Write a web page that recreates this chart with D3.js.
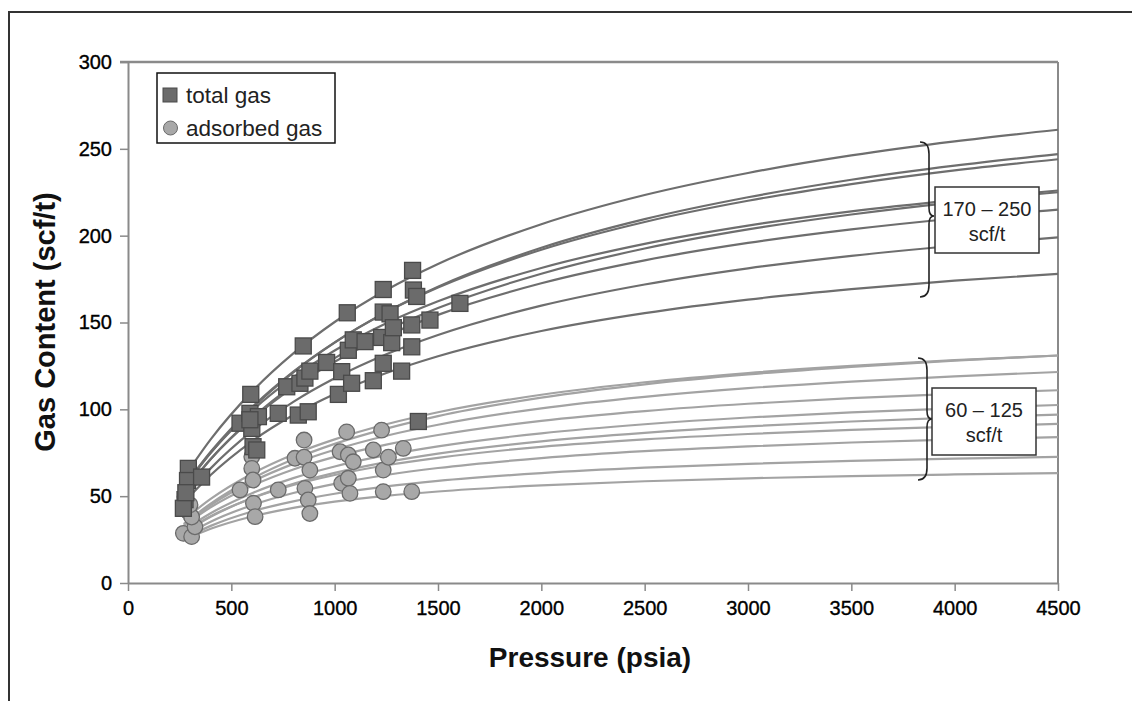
<!DOCTYPE html>
<html><head><meta charset="utf-8">
<script src="https://cdn.jsdelivr.net/npm/d3@7"></script>
<style>body{margin:0;background:#fff}svg{display:block;font-family:"Liberation Sans",Arial,sans-serif}</style>
</head><body><svg id="c" width="1132" height="701"></svg>
<script>
// ---- data ----
const xTicks = [0,500,1000,1500,2000,2500,3000,3500,4000,4500];
const yTicks = [0,50,100,150,200,250,300];
const curvePressures = [270,400,600,800,1000,1250,1500,2000,2500,3000,3500,4000,4500];
const totalCurves = [
  [60.7,82.7,110.2,132.2,150.3,168.7,183.7,206.6,223.4,236.1,246.2,254.3,261.0],
  [54.8,74.9,100.5,121.3,138.4,156.1,170.6,193.0,209.5,222.1,232.2,240.3,247.0],
  [55.4,75.6,101.1,121.7,138.6,155.9,170.1,191.9,207.9,220.1,229.7,237.6,244.0],
  [55.4,75.0,99.2,118.4,133.9,149.6,162.2,181.4,195.3,205.8,214.0,220.5,226.0],
  [52.3,71.3,95.0,114.0,129.5,145.4,158.3,178.1,192.6,203.6,212.2,219.2,225.0],
  [52.7,71.4,94.4,112.7,127.4,142.3,154.4,172.6,185.8,195.8,203.6,209.9,215.0],
  [48.8,66.0,87.4,104.3,117.9,131.7,142.8,159.7,171.9,181.2,188.4,194.2,199.0],
  [46.3,62.2,81.6,96.7,108.8,120.9,130.6,145.1,155.4,163.2,169.2,174.1,178.0]
];
const adsorbedCurves = [
  [36.3,48.4,62.9,74.0,82.7,91.4,98.3,108.4,115.6,120.9,125.0,128.3,131.0],
  [34.0,45.7,60.0,71.2,80.1,88.9,96.1,106.7,114.4,120.1,124.5,128.1,131.0],
  [33.6,44.9,58.3,68.6,76.7,84.8,91.1,100.6,107.2,112.2,116.0,119.0,121.5],
  [33.0,43.6,56.0,65.4,72.6,79.7,85.2,93.4,99.0,103.2,106.4,108.9,111.0],
  [30.5,40.2,51.7,60.4,67.1,73.6,78.7,86.2,91.4,95.3,98.2,100.6,102.5],
  [28.8,38.1,48.9,57.1,63.4,69.6,74.5,81.6,86.5,90.2,93.0,95.2,97.0],
  [29.4,38.5,48.8,56.4,62.2,67.8,72.1,78.4,82.7,85.8,88.2,90.0,91.6],
  [27.0,35.3,44.8,51.8,57.1,62.2,66.2,71.9,75.9,78.7,80.9,82.6,84.0],
  [25.5,32.9,41.2,47.0,51.4,55.6,58.8,63.3,66.4,68.6,70.3,71.6,72.6],
  [24.7,31.2,38.3,43.3,46.9,50.2,52.7,56.2,58.6,60.3,61.5,62.5,63.3]
];
const totalGasPoints = [
  [292,66],[288,59],[356,61],[276,48],[268,43],[280,52],
  [542,92],[590,97.7],[594,108.6],[599,89],[631,95.8],[590,94],[605,78.5],[623,76.6],
  [727,97.7],[768,113],[824,96.7],[832,115],[848,136.5],[856,118],[872,98.6],[880,122],
  [961,127],[1018,108.6],[1034,121.7],[1061,155.6],[1066,134],[1082,115],[1090,140],[1147,139],[1187,116.5],
  [1227,141.4],[1235,169],[1235,156],[1235,126.5],[1268,155],[1276,138.4],[1284,147],[1324,122],
  [1373,148.6],[1373,136],[1377,180],[1381,168.7],[1397,165],[1405,93],[1461,151.4],[1606,161]
];
const adsorbedGasPoints = [
  [268,28.6],[308,26.7],[324,32.4],[292,41],[308,38],[276,49.7],[300,45],
  [542,53.6],[599,72.7],[599,66],[605,59.3],[607,45.9],[615,38.2],
  [727,53.6],[808,71.8],[852,82.3],[852,72.4],[880,65],[856,54.5],[872,47.8],[880,40],
  [1026,75.6],[1034,57.4],[1058,87],[1066,73.7],[1066,60.3],[1074,51.6],[1090,69.8],
  [1187,76.6],[1227,88],[1235,65],[1235,52.6],[1260,72.4],[1332,77.5],[1373,52.6]
];
const legendLabels = ["total gas","adsorbed gas"];
const annotations = [
  {lo:170, hi:250, text:["170 \u2013 250","scf/t"]},
  {lo:60, hi:125, text:["60 \u2013 125","scf/t"]}
];
const xTitle = "Pressure (psia)";
const yTitle = "Gas Content (scf/t)";

// ---- drawing ----
const svg = d3.select("#c");
const L=128,R=1058,T=62,B=583;
const x = d3.scaleLinear().domain([0,4500]).range([L,R]);
const y = d3.scaleLinear().domain([0,300]).range([B,T]);

// outer frame
svg.append("rect").attr("x",9).attr("y",12).attr("width",1140).attr("height",720)
  .attr("fill","none").attr("stroke","#333").attr("stroke-width",2);

// plot border (top & right)
svg.append("line").attr("x1",L-8).attr("x2",R).attr("y1",T).attr("y2",T).attr("stroke","#8a8a8a").attr("stroke-width",2.5);
svg.append("line").attr("x1",R).attr("x2",R).attr("y1",T).attr("y2",B).attr("stroke","#8a8a8a").attr("stroke-width",2);

// axes
const xa = svg.append("g").attr("transform",`translate(0,${B})`)
  .call(d3.axisBottom(x).tickValues(xTicks).tickFormat(d3.format("d")).tickSize(8).tickPadding(10).tickSizeOuter(0));
const ya = svg.append("g").attr("transform",`translate(${L},0)`)
  .call(d3.axisLeft(y).tickValues(yTicks).tickFormat(d3.format("d")).tickSize(8).tickPadding(8).tickSizeOuter(0));
[xa,ya].forEach(g=>{
  g.select(".domain").attr("stroke","#8a8a8a").attr("stroke-width",2);
  g.selectAll(".tick line").attr("stroke","#8a8a8a").attr("stroke-width",1.5);
  g.selectAll(".tick text").attr("fill","#000").attr("stroke","#000").attr("stroke-width",0.35)
    .style("font-size","20px").style("font-family","'Liberation Sans',Arial,sans-serif");
});

const line = d3.line().x((d,i)=>x(curvePressures[i])).y(d=>y(d)).curve(d3.curveMonotoneX);
svg.append("g").selectAll("path").data(adsorbedCurves).join("path")
  .attr("d",line).attr("fill","none").attr("stroke","#a3a3a3").attr("stroke-width",2.2);
svg.append("g").selectAll("path").data(totalCurves).join("path")
  .attr("d",line).attr("fill","none").attr("stroke","#6e6e6e").attr("stroke-width",2.2);

svg.append("g").selectAll("circle").data(adsorbedGasPoints).join("circle")
  .attr("cx",d=>x(d[0])).attr("cy",d=>y(d[1])).attr("r",7.8)
  .attr("fill","#a8a8a8").attr("stroke","#6a6a6a").attr("stroke-width",1.3);
svg.append("g").selectAll("rect").data(totalGasPoints).join("rect")
  .attr("x",d=>x(d[0])-8).attr("y",d=>y(d[1])-8).attr("width",16).attr("height",16)
  .attr("fill","#6b6b6b").attr("stroke","#4a4a4a").attr("stroke-width",1.3);

// legend
const lg = svg.append("g");
lg.append("rect").attr("x",157).attr("y",73).attr("width",178).attr("height",70)
  .attr("fill","#fff").attr("stroke","#111").attr("stroke-width",1.5);
lg.append("rect").attr("x",163).attr("y",88).attr("width",14).attr("height",14)
  .attr("fill","#6b6b6b").attr("stroke","#4a4a4a");
lg.append("circle").attr("cx",170.5).attr("cy",128).attr("r",7)
  .attr("fill","#a8a8a8").attr("stroke","#6a6a6a");
lg.selectAll("text").data(legendLabels).join("text")
  .attr("x",186).attr("y",(d,i)=>103+i*33).text(d=>d)
  .style("font-size","22.5px").attr("fill","#222");

// annotations (brace + box)
const annBox = [{x:935,y:187,w:104,h:66,bx:920,t:142,b:297,tip:216},
                {x:932,y:388,w:104,h:67,bx:918,t:358,b:480,tip:419}];
annotations.forEach((a,i)=>{
  const p = annBox[i];
  const g = svg.append("g");
  const bx=p.bx, w=9;
  const path = `M${bx},${p.t} Q${bx+w},${p.t} ${bx+w},${p.t+12} L${bx+w},${p.tip-8} Q${bx+w},${p.tip} ${bx+w+5},${p.tip} Q${bx+w},${p.tip} ${bx+w},${p.tip+8} L${bx+w},${p.b-12} Q${bx+w},${p.b} ${bx},${p.b}`;
  g.append("path").attr("d",path).attr("fill","none").attr("stroke","#222").attr("stroke-width",1.6);
  g.append("rect").attr("x",p.x).attr("y",p.y).attr("width",p.w).attr("height",p.h)
    .attr("fill","#fff").attr("stroke","#333").attr("stroke-width",1.5);
  g.selectAll("text").data(a.text).join("text")
    .attr("x",p.x+p.w/2).attr("y",(d,j)=>p.y+29+j*25).attr("text-anchor","middle")
    .style("font-size","20px").attr("fill","#222").text(d=>d);
});

// titles
svg.append("text").attr("x",590).attr("y",667).attr("text-anchor","middle")
  .style("font-size","28px").style("font-weight","bold").attr("fill","#111").text(xTitle);
svg.append("text").attr("transform","translate(55,322) rotate(-90)").attr("text-anchor","middle")
  .style("font-size","29px").style("font-weight","bold").attr("fill","#111").text(yTitle);
</script></body></html>
